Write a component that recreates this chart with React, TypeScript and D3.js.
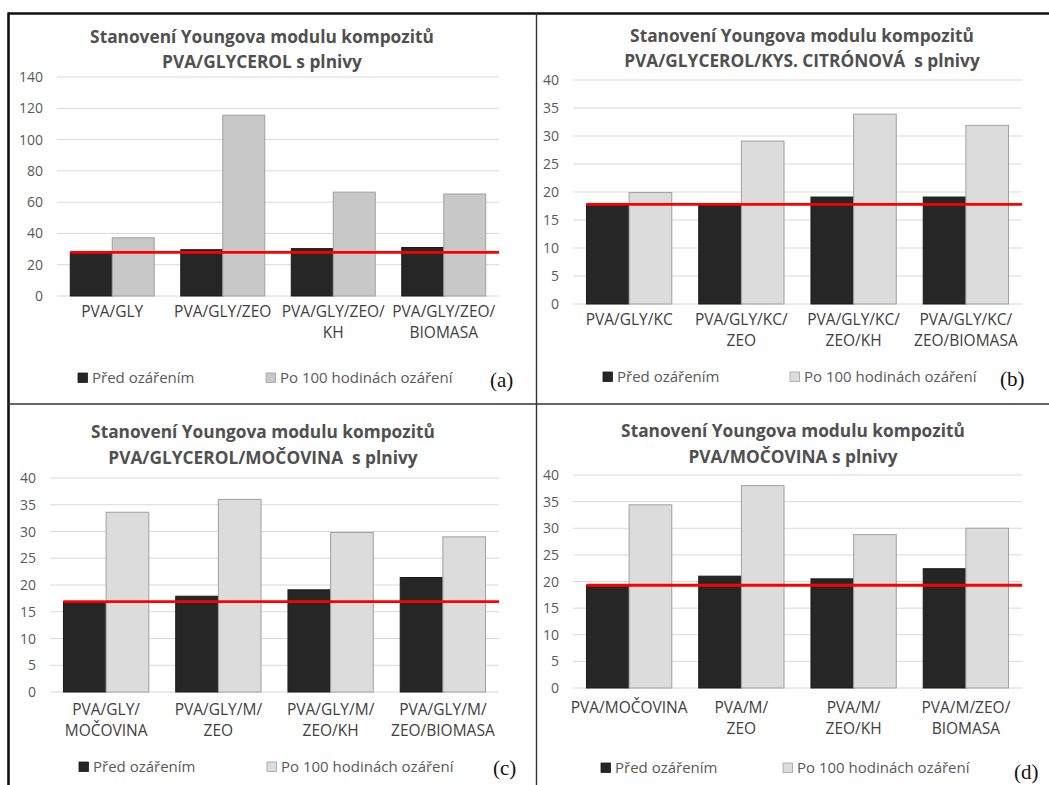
import React from 'react';
import * as d3 from 'd3';

// legend labels shared by all four panels
const SERIES = ['Před ozářením', 'Po 100 hodinách ozáření'];
const TITLE_TOP = 'Stanovení Youngova modulu kompozitů';

// (a) PVA/GLYCEROL
const catsA = [['PVA/GLY'], ['PVA/GLY/ZEO'], ['PVA/GLY/ZEO/', 'KH'], ['PVA/GLY/ZEO/', 'BIOMASA']];
const beforeA = [27.9, 29.6, 30.3, 31.0];
const afterA = [37.2, 115.6, 66.4, 65.2];
const ticksA = [0, 20, 40, 60, 80, 100, 120, 140];

// (b) PVA/GLYCEROL/KYS. CITRÓNOVÁ
const catsB = [['PVA/GLY/KC'], ['PVA/GLY/KC/', 'ZEO'], ['PVA/GLY/KC/', 'ZEO/KH'], ['PVA/GLY/KC/', 'ZEO/BIOMASA']];
const beforeB = [17.8, 17.7, 19.1, 19.1];
const afterB = [19.9, 29.1, 33.9, 31.9];

// (c) PVA/GLYCEROL/MOČOVINA
const catsC = [['PVA/GLY/', 'MOČOVINA'], ['PVA/GLY/M/', 'ZEO'], ['PVA/GLY/M/', 'ZEO/KH'], ['PVA/GLY/M/', 'ZEO/BIOMASA']];
const beforeC = [16.9, 17.9, 19.1, 21.4];
const afterC = [33.6, 36.0, 29.8, 29.0];

// (d) PVA/MOČOVINA
const catsD = [['PVA/MOČOVINA'], ['PVA/M/', 'ZEO'], ['PVA/M/', 'ZEO/KH'], ['PVA/M/ZEO/', 'BIOMASA']];
const beforeD = [19.3, 21.0, 20.5, 22.4];
const afterD = [34.4, 38.0, 28.8, 30.0];

const ticks40 = [0, 5, 10, 15, 20, 25, 30, 35, 40];

const FONT = '"Open Sans", sans-serif';

const panels = [
  {
    tag: '(a)', title2: 'PVA/GLYCEROL s plnivy', cats: catsA, before: beforeA, after: afterA, ticks: ticksA,
    light: '#c8c8c8', x: [57, 499], y: [296, 77], titleX: 262, titleY: [43, 68], catY: 317,
    legY: 383, legX: [78, 266], tagX: 490, tagY: 387,
  },
  {
    tag: '(b)', title2: 'PVA/GLYCEROL/KYS. CITRÓNOVÁ  s plnivy', cats: catsB, before: beforeB, after: afterB, ticks: ticks40,
    light: '#dcdcdc', x: [573, 1022], y: [304, 80], titleX: 802, titleY: [42, 67], catY: 325,
    legY: 382, legX: [603, 790], tagX: 1000, tagY: 386,
  },
  {
    tag: '(c)', title2: 'PVA/GLYCEROL/MOČOVINA  s plnivy', cats: catsC, before: beforeC, after: afterC, ticks: ticks40,
    light: '#dcdcdc', x: [50, 499], y: [692, 478], titleX: 263, titleY: [438, 464], catY: 715,
    legY: 772, legX: [79, 267], tagX: 493, tagY: 775,
  },
  {
    tag: '(d)', title2: 'PVA/MOČOVINA s plnivy', cats: catsD, before: beforeD, after: afterD, ticks: ticks40,
    light: '#dcdcdc', x: [573, 1022], y: [688, 475], titleX: 793, titleY: [437, 463], catY: 713,
    legY: 773, legX: [601, 783], tagX: 1014, tagY: 779,
  },
];

const Panel = ({ p }) => {
  const yMax = p.ticks[p.ticks.length - 1];
  const y = d3.scaleLinear().domain([0, yMax]).range(p.y);
  const x0 = d3.scaleBand().domain(d3.range(p.cats.length)).range(p.x).paddingInner(0.24).paddingOuter(0.12);
  const x1 = d3.scaleBand().domain([0, 1]).range([0, x0.bandwidth()]);
  const fills = ['#262626', p.light];
  const strokes = ['#1a1a1a', '#a0a0a0'];
  const vals = [p.before, p.after];

  return (
    <g fontFamily={FONT}>
      <text x={p.titleX} y={p.titleY[0]} textAnchor="middle" fontSize={17.3} fontWeight="bold" fill="#505050">{TITLE_TOP}</text>
      <text x={p.titleX} y={p.titleY[1]} textAnchor="middle" fontSize={17.3} fontWeight="bold" fill="#505050" style={{ whiteSpace: 'pre' }}>{p.title2}</text>

      {p.ticks.map(t => (
        <g key={t}>
          <line x1={p.x[0]} x2={p.x[1]} y1={y(t)} y2={y(t)} stroke="#d9d9d9" strokeWidth={1} />
          <text x={p.x[0] - 14} y={y(t) + 5} textAnchor="end" fontSize={14} fill="#595959">{t}</text>
        </g>
      ))}

      {p.cats.map((c, i) => (
        <g key={i} transform={`translate(${x0(i)},0)`}>
          {vals.map((v, s) => (
            <rect key={s} x={x1(s)} y={y(v[i])} width={x1.bandwidth()} height={y(0) - y(v[i])}
              fill={fills[s]} stroke={strokes[s]} strokeWidth={1} />
          ))}
          {c.map((line, k) => (
            <text key={k} x={x0.bandwidth() / 2} y={p.catY + k * 21} textAnchor="middle" fontSize={15.5} fill="#404040">{line}</text>
          ))}
        </g>
      ))}

      <line x1={x0(0)} x2={p.x[1]} y1={y(p.before[0])} y2={y(p.before[0])} stroke="#ff0000" strokeWidth={2.8} />

      {SERIES.map((s, k) => (
        <g key={s}>
          <rect x={p.legX[k]} y={p.legY - 10} width={9.5} height={9.5} fill={fills[k]} stroke={strokes[k]} strokeWidth={0.8} />
          <text x={p.legX[k] + 14} y={p.legY} fontSize={15} fill="#595959">{s}</text>
        </g>
      ))}

      <text x={p.tagX} y={p.tagY} fontFamily='"Liberation Serif", serif' fontSize={21} fill="#111">{p.tag}</text>
    </g>
  );
};

const App = () => (
  <svg width={1049} height={785} style={{ position: 'absolute', left: 0, top: 0, background: '#fff' }}>
    <rect width={1049} height={785} fill="#fff" />
    {panels.map(p => <Panel key={p.tag} p={p} />)}
    <line x1={8} x2={1049} y1={13.5} y2={13.5} stroke="#111" strokeWidth={2.6} />
    <line x1={8.5} x2={8.5} y1={12.5} y2={785} stroke="#111" strokeWidth={2.6} />
    <line x1={536.5} x2={536.5} y1={13} y2={785} stroke="#333" strokeWidth={1.4} />
    <line x1={8} x2={1049} y1={404} y2={404} stroke="#333" strokeWidth={1.4} />
  </svg>
);

export default App;
